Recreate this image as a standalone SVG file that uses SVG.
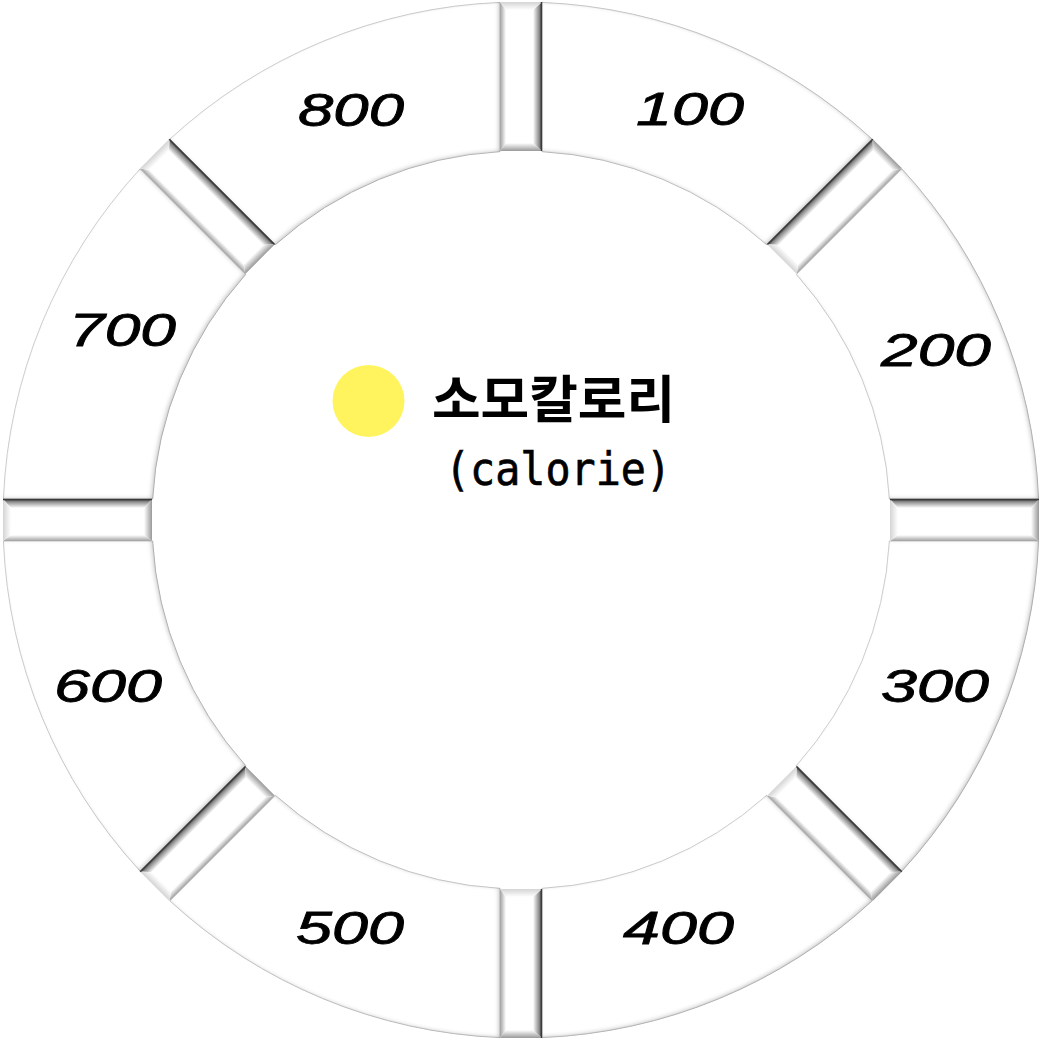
<svg xmlns="http://www.w3.org/2000/svg" xmlns:xlink="http://www.w3.org/1999/xlink" width="1043" height="1042" viewBox="0 0 1043 1042">
  <style>
    .sector { fill: #ffffff; stroke: #d2d2d2; stroke-width: 1; filter: url(#inset); }
    .num { font-family: "Liberation Sans", "DejaVu Sans", sans-serif; font-style: italic; font-size: 46px; fill: #000; stroke: #000; stroke-width: 0.8; }
    .title { font-family: "Noto Sans CJK KR", "Noto Sans", sans-serif; font-weight: 700; font-size: 51px; fill: #000; }
    .sub { font-family: "DejaVu Sans Mono", "Liberation Mono", monospace; font-size: 46px; fill: #000; stroke: #000; stroke-width: 0.7; }
  </style>
  <defs>
    <filter id="inset" x="-5%" y="-5%" width="110%" height="110%">
      <feGaussianBlur in="SourceAlpha" stdDeviation="2.2" result="b"/>
      <feOffset in="b" dx="-2.5" dy="-1" result="o"/>
      <feComposite in="SourceAlpha" in2="o" operator="out" result="edge"/>
      <feFlood flood-color="#000" flood-opacity="0.45"/>
      <feComposite in2="edge" operator="in" result="shadow"/>
      <feMerge><feMergeNode in="SourceGraphic"/><feMergeNode in="shadow"/></feMerge>
    </filter>
    <linearGradient id="gTop" x1="0" y1="0" x2="0" y2="1">
      <stop offset="0" stop-color="#333"/>
      <stop offset="0.3" stop-color="#8a8a8a"/>
      <stop offset="1" stop-color="#fff"/>
    </linearGradient>
    <linearGradient id="gBot" x1="0" y1="0" x2="0" y2="1">
      <stop offset="0" stop-color="#fff"/>
      <stop offset="1" stop-color="#a0a0a0"/>
    </linearGradient>
    <linearGradient id="gLeft" x1="0" y1="0" x2="1" y2="0">
      <stop offset="0" stop-color="#d4d4d4"/>
      <stop offset="1" stop-color="#fff"/>
    </linearGradient>
    <linearGradient id="gRight" x1="0" y1="0" x2="1" y2="0">
      <stop offset="0" stop-color="#fff"/>
      <stop offset="1" stop-color="#999"/>
    </linearGradient>
    <g id="bar">
      <rect x="-74.5" y="-21" width="149" height="42" fill="#fff"/>
      <polygon points="-74.5,-21 74.5,-21 66.5,-12 -66.5,-12" fill="url(#gTop)"/>
      <polygon points="-74.5,21 74.5,21 66.5,15 -66.5,15" fill="url(#gBot)"/>
      <polygon points="-74.5,-21 -66.5,-12 -66.5,15 -74.5,21" fill="url(#gLeft)"/>
      <polygon points="74.5,-21 74.5,21 66.5,15 66.5,-12" fill="url(#gRight)"/>
      <line x1="-74.5" y1="-20.5" x2="74.5" y2="-20.5" stroke="#3a3a3a" stroke-width="1.4"/>
    </g>
  </defs>
  <rect width="1043" height="1042" fill="#fff"/>

  <g id="seg-100">
    <path class="sector" d="M542,2.43 A518,518 0 0 1 872.13,139.17 L766.65,244.65 A369,369 0 0 0 542,151.6 Z"/>
    <text class="num" x="636" y="125" textLength="108" lengthAdjust="spacingAndGlyphs">100</text>
  </g>
  <g id="seg-200">
    <path class="sector" d="M901.83,168.87 A518,518 0 0 1 1038.57,499 L889.4,499 A369,369 0 0 0 796.35,274.35 Z"/>
    <text class="num" x="881" y="366" textLength="110" lengthAdjust="spacingAndGlyphs">200</text>
  </g>
  <g id="seg-300">
    <path class="sector" d="M1038.57,541 A518,518 0 0 1 901.83,871.13 L796.35,765.65 A369,369 0 0 0 889.4,541 Z"/>
    <text class="num" x="881" y="702" textLength="108" lengthAdjust="spacingAndGlyphs">300</text>
  </g>
  <g id="seg-400">
    <path class="sector" d="M872.13,900.83 A518,518 0 0 1 542,1037.57 L542,888.4 A369,369 0 0 0 766.65,795.35 Z"/>
    <text class="num" x="623" y="944" textLength="111" lengthAdjust="spacingAndGlyphs">400</text>
  </g>
  <g id="seg-500">
    <path class="sector" d="M500,1037.57 A518,518 0 0 1 169.87,900.83 L275.35,795.35 A369,369 0 0 0 500,888.4 Z"/>
    <text class="num" x="296" y="944" textLength="108" lengthAdjust="spacingAndGlyphs">500</text>
  </g>
  <g id="seg-600">
    <path class="sector" d="M140.17,871.13 A518,518 0 0 1 3.43,541 L152.6,541 A369,369 0 0 0 245.65,765.65 Z"/>
    <text class="num" x="54" y="702" textLength="108" lengthAdjust="spacingAndGlyphs">600</text>
  </g>
  <g id="seg-700">
    <path class="sector" d="M3.43,499 A518,518 0 0 1 140.17,168.87 L245.65,274.35 A369,369 0 0 0 152.6,499 Z"/>
    <text class="num" x="69" y="346" textLength="107" lengthAdjust="spacingAndGlyphs">700</text>
  </g>
  <g id="seg-800">
    <path class="sector" d="M169.87,139.17 A518,518 0 0 1 500,2.43 L500,151.6 A369,369 0 0 0 275.35,244.65 Z"/>
    <text class="num" x="298" y="126" textLength="106" lengthAdjust="spacingAndGlyphs">800</text>
  </g>

  <g id="connectors">
    <use xlink:href="#bar" transform="translate(521,76.5) rotate(90)"/>
    <use xlink:href="#bar" transform="translate(834.6,206.4) rotate(-45)"/>
    <use xlink:href="#bar" transform="translate(964.5,520)"/>
    <use xlink:href="#bar" transform="translate(834.6,833.6) rotate(45)"/>
    <use xlink:href="#bar" transform="translate(521,963.5) rotate(90)"/>
    <use xlink:href="#bar" transform="translate(207.4,833.6) rotate(-45)"/>
    <use xlink:href="#bar" transform="translate(77.5,520)"/>
    <use xlink:href="#bar" transform="translate(207.4,206.4) rotate(45)"/>
  </g>

  <g id="legend">
    <circle cx="368.5" cy="401" r="36" fill="#FFF45E"/>
    <text class="title" x="432" y="418" textLength="243" lengthAdjust="spacingAndGlyphs">소모칼로리</text>
    <text class="sub" x="445" y="485" textLength="226" lengthAdjust="spacingAndGlyphs">(calorie)</text>
  </g>
</svg>
